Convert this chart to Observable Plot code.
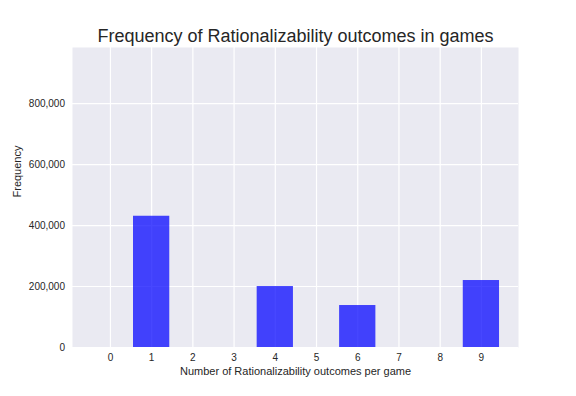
<!DOCTYPE html>
<html>
<head>
<meta charset="utf-8">
<script src="https://cdn.jsdelivr.net/npm/d3@7"></script>
<script src="https://cdn.jsdelivr.net/npm/@observablehq/plot@0.6"></script>
<style>
  html, body { margin: 0; padding: 0; background: #ffffff; }
</style>
</head>
<body>
<div id="chart"></div>
<script>
const outcomes = [1, 4, 6, 9];
const frequencies = [430500, 200000, 137700, 219700];
const xTicks = [0, 1, 2, 3, 4, 5, 6, 7, 8, 9];
const yTicks = [0, 200000, 400000, 600000, 800000];
const titleText = "Frequency of Rationalizability outcomes in games";
const xLabel = "Number of Rationalizability outcomes per game";
const yLabel = "Frequency";

const data = outcomes.map((o, i) => ({ outcome: o, frequency: frequencies[i] }));
const halfBin = 0.44;
const font = "'Liberation Sans', Arial, sans-serif";

const plot = Plot.plot({
  width: 576,
  height: 396,
  marginLeft: 72,
  marginRight: 58,
  marginTop: 47,
  marginBottom: 49,
  style: { fontFamily: font, fontSize: "10px", color: "#262626", background: "#ffffff", overflow: "visible" },
  x: { type: "linear", domain: [-0.92, 9.9] },
  y: { type: "linear", domain: [0, 984000] },
  marks: [
    Plot.frame({ fill: "#EAEAF2", stroke: null }),
    Plot.gridX(xTicks, { stroke: "#ffffff", strokeOpacity: 1, strokeWidth: 1.2 }),
    Plot.gridY(yTicks, { stroke: "#ffffff", strokeOpacity: 1, strokeWidth: 1.2 }),
    Plot.rect(data, {
      x1: d => d.outcome - halfBin,
      x2: d => d.outcome + halfBin,
      y1: 0,
      y2: "frequency",
      fill: "blue",
      fillOpacity: 0.72
    }),
    Plot.axisX({ ticks: xTicks, tickSize: 0, tickPadding: 6.5, label: null, fill: "#262626", tickFormat: d => String(d) }),
    Plot.axisY({ ticks: yTicks, tickSize: 0, tickPadding: 7.5, label: null, fill: "#262626", tickFormat: d3.format(",") }),
    Plot.text([xLabel], { frameAnchor: "bottom", dy: 23.5, lineAnchor: "middle", fontSize: 11, fill: "#262626", text: d => d }),
    Plot.text([yLabel], { frameAnchor: "left", dx: -55, rotate: -90, lineAnchor: "middle", fontSize: 11, fill: "#262626", text: d => d }),
    Plot.text([titleText], { frameAnchor: "top", dy: -11.5, lineAnchor: "middle", fontSize: 18, fill: "#262626", text: d => d })
  ]
});
document.getElementById("chart").appendChild(plot);
</script>
</body>
</html>
